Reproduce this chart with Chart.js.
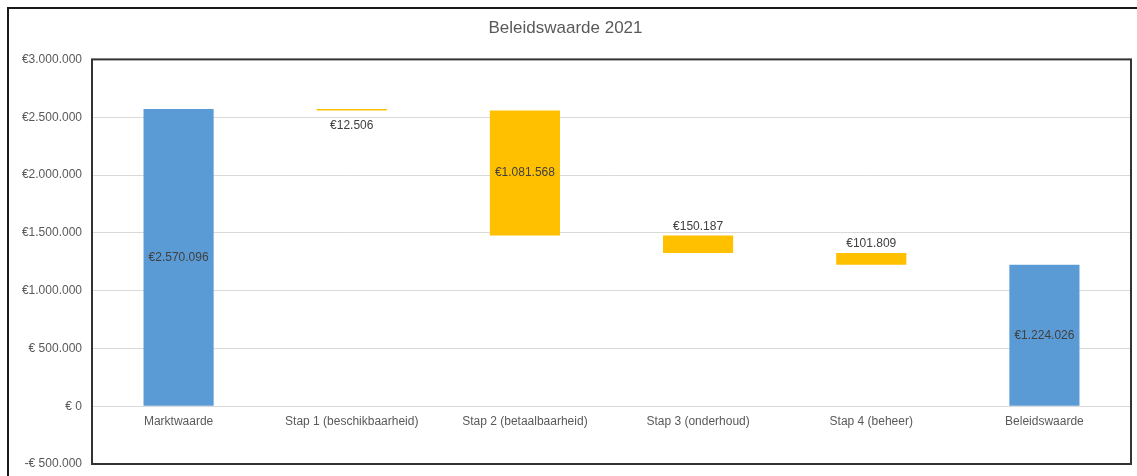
<!DOCTYPE html>
<html>
<head>
<meta charset="utf-8">
<script src="https://cdn.jsdelivr.net/npm/chart.js@4"></script>
<style>
  body { margin: 0; background: #fff; }
  canvas { display: block; }
</style>
</head>
<body>
<canvas id="beleidChart" width="1137" height="476"></canvas>
<script>
// data
const categories = ['Marktwaarde', 'Stap 1 (beschikbaarheid)', 'Stap 2 (betaalbaarheid)', 'Stap 3 (onderhoud)', 'Stap 4 (beheer)', 'Beleidswaarde'];
const amounts = [2570096, 12506, 1081568, 150187, 101809, 1224026];
const kinds = ['total', 'step', 'step', 'step', 'step', 'total'];
const yTicks = [-500000, 0, 500000, 1000000, 1500000, 2000000, 2500000, 3000000];

const BLUE = '#5B9BD5';
const YELLOW = '#FFC000';
const FONT = "'Liberation Sans', Arial, sans-serif";

// build floating bars: totals from zero, steps go down from running value
let running = 0;
const ranges = amounts.map((v, i) => {
    if (kinds[i] === 'total') {
        running = v;
        return [0, v];
    }
    const r = [running - v, running];
    running -= v;
    return r;
});

const nl = v => Math.abs(v).toLocaleString('nl-NL');
const euro = v => (v < 0 ? '-' : '') + (Math.abs(v) >= 1000000 ? '€' : '€ ') + nl(v);

// where each value label goes
const labelPlacement = ['center', 'below', 'center', 'above', 'above', 'center'];

const framePlugin = {
    id: 'frame',
    beforeDraw(chart) {
        const ctx = chart.ctx;
        ctx.save();
        ctx.fillStyle = '#fff';
        ctx.fillRect(0, 0, chart.width, chart.height);
        ctx.strokeStyle = '#1a1a1a';
        ctx.lineWidth = 2;
        ctx.strokeRect(8, 8, chart.width + 20, chart.height + 20);
        ctx.restore();
    },
    afterDatasetsDraw(chart) {
        const ctx = chart.ctx;
        const a = chart.chartArea;
        const x = chart.scales.x;
        const y = chart.scales.y;
        ctx.save();
        // plot area box
        ctx.strokeStyle = '#333';
        ctx.lineWidth = 2;
        ctx.strokeRect(a.left, a.top, a.right - a.left, a.bottom - a.top);

        // category labels just under the zero line
        const zeroY = y.getPixelForValue(0);
        ctx.font = '12px ' + FONT;
        ctx.fillStyle = '#595959';
        ctx.textAlign = 'center';
        ctx.textBaseline = 'middle';
        categories.forEach((c, i) => {
            ctx.fillText(c, x.getPixelForValue(i), zeroY + 15);
        });

        // value labels
        const meta = chart.getDatasetMeta(0);
        ctx.fillStyle = '#404040';
        meta.data.forEach((bar, i) => {
            const top = Math.min(bar.y, bar.base);
            const bottom = Math.max(bar.y, bar.base);
            const txt = '€' + nl(amounts[i]);
            let ty;
            if (labelPlacement[i] === 'above') ty = top - 9;
            else if (labelPlacement[i] === 'below') ty = bottom + 15;
            else ty = (top + bottom) / 2;
            ctx.fillText(txt, bar.x, ty);
        });
        ctx.restore();
    }
};

new Chart(document.getElementById('beleidChart').getContext('2d'), {
    type: 'bar',
    data: {
        labels: categories,
        datasets: [{
            data: ranges,
            backgroundColor: kinds.map(k => k === 'total' ? BLUE : YELLOW),
            borderWidth: 0,
            barPercentage: 0.405,
            categoryPercentage: 1
        }]
    },
    options: {
        responsive: false,
        animation: false,
        devicePixelRatio: 1,
        layout: { padding: { left: 0, right: 6, top: 0, bottom: 12 } },
        plugins: {
            legend: { display: false },
            tooltip: { enabled: false },
            title: {
                display: true,
                text: 'Beleidswaarde 2021',
                color: '#595959',
                font: { family: FONT, size: 17, weight: 'normal', lineHeight: 1.2 },
                padding: { top: 18, bottom: 21 }
            }
        },
        scales: {
            x: { display: false },
            y: {
                min: -500000,
                max: 3000000,
                afterFit(scale) {
                    scale.width = 92;
                    scale.paddingTop = 0;
                    scale.paddingBottom = 0;
                },
                afterBuildTicks(scale) { scale.ticks = yTicks.map(v => ({ value: v })); },
                grid: { color: '#d9d9d9', lineWidth: 1, drawTicks: false },
                border: { display: false },
                ticks: {
                    padding: 10,
                    color: '#595959',
                    font: { family: FONT, size: 12 },
                    callback: v => euro(v)
                }
            }
        }
    },
    plugins: [framePlugin]
});
</script>
</body>
</html>
